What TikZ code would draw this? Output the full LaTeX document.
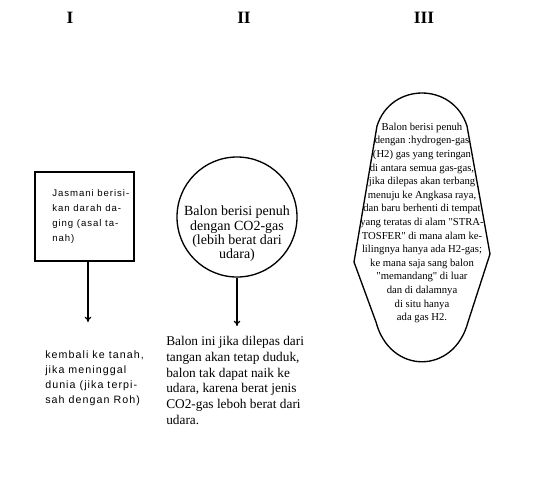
\documentclass[tikz,border=0pt]{standalone}
\usepackage{fontspec}
\setmainfont{Liberation Serif}
\newfontfamily\serifplain{Liberation Serif}
\newfontfamily\sansI[LetterSpace=10]{Liberation Sans}
\usetikzlibrary{arrows.meta}
\begin{document}
\begin{tikzpicture}[x=0.75pt,y=-0.75pt,
  numlabel/.style={inner sep=0pt,font=\fontsize{13}{15}\selectfont\bfseries},
  boxone/.style={draw,line width=1pt,minimum width=74.25pt,minimum height=66.75pt,inner sep=0pt},
  circtwo/.style={draw,circle,line width=1pt,minimum size=90pt,inner sep=0pt},
  arrowline/.style={line width=0.9pt,-{To[length=4pt,width=5pt]}},
  sanstext/.style={inner sep=0pt,align=left,font=\sansI\fontsize{8}{11.25}\selectfont},
  boxtext/.style={inner sep=0pt,align=left,font=\sansI\fontsize{7.2}{11.25}\selectfont},
  serifleft/.style={inner sep=0pt,align=left,font=\fontsize{10}{11.85}\selectfont},
  circtext/.style={inner sep=0pt,align=center,font=\fontsize{10.5}{10.8}\selectfont},
  hextext/.style={inner sep=0pt,align=center,font=\serifplain\fontsize{8}{10.2}\selectfont},
  hexline/.style={line width=1pt,line join=round}]
\useasboundingbox (0,0) rectangle (543,480);
% column labels
\node[numlabel] (lI) at (70,18) {I};
\node[numlabel] (lII) at (244,18) {II};
\node[numlabel] (lIII) at (424,18) {III};
% column I
\node[boxone] (b1) at (84.5,216.5) {};
\node[boxtext,anchor=north west] (t1) at (52,189) {Jasmani berisi-\\kan darah da-\\ging (asal ta-\\nah)};
\coordinate (a1end) at (88,322);
\draw[arrowline] (b1.south -| a1end) -- (a1end);
\node[sanstext,anchor=north west] (t1b) at (45,350) {kembali ke tanah,\\jika meninggal\\dunia (jika terpi-\\sah dengan Roh)};
% column II
\node[circtwo] (c2) at (237,217) {};
\node[circtext] (t2) at (237,234) {Balon berisi penuh\\dengan CO2-gas\\(lebih berat dari\\udara)};
\coordinate (a2end) at (237,326);
\draw[arrowline] (c2.south) -- (a2end);
\node[serifleft,anchor=north west] (t2b) at (166,336) {Balon ini jika dilepas dari\\tangan akan tetap duduk,\\balon tak dapat naik ke\\udara, karena berat jenis\\CO2-gas leboh berat dari\\udara.};
% column III
\node[hextext] (t3) at (422,223) {Balon berisi penuh\\dengan :hydrogen-gas\\(H2) gas yang teringan\\di antara semua gas-gas,\\jika dilepas akan terbang\\menuju ke Angkasa raya,\\dan baru berhenti di tempat\\yang teratas di alam "STRA-\\TOSFER" di mana alam ke-\\lilingnya hanya ada H2-gas;\\ke mana saja sang balon\\"memandang" di luar\\dan di dalamnya\\di situ hanya\\ada gas H2.};
\draw[hexline] (377,126) .. controls (391,82) and (453,82) .. (467,126)
  -- (490,254) -- (468,322) .. controls (454,375) and (390,375) .. (376,322)
  -- (354,262) -- cycle;
\end{tikzpicture}
\end{document}
